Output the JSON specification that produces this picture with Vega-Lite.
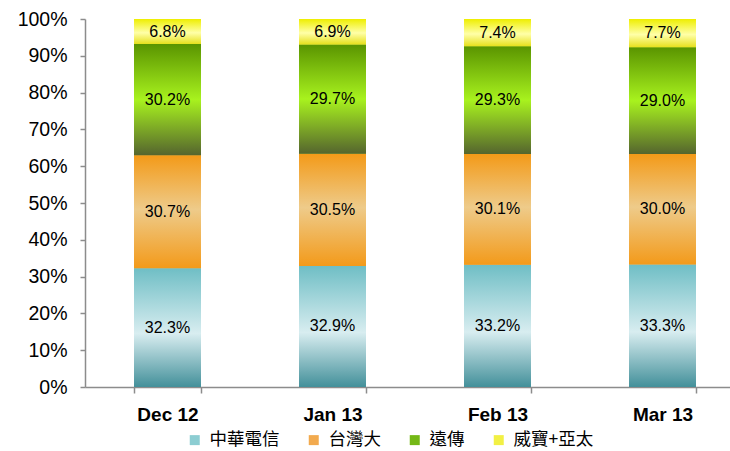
{
  "$schema": "https://vega.github.io/schema/vega-lite/v6.json",
  "autosize": {"type": "none"},
  "padding": {"left": 85, "top": 19, "right": 0, "bottom": 64},
  "width": 660,
  "height": 368,
  "background": "white",
  "config": {
    "view": {"stroke": null},
    "font": "Liberation Sans",
    "axisY": {"labelOverlap": false}
  },
  "data": {
    "values": [
      {"m": "Dec 12", "s": "中華電信", "o": 1, "v": 0.323},
      {"m": "Dec 12", "s": "台灣大", "o": 2, "v": 0.307},
      {"m": "Dec 12", "s": "遠傳", "o": 3, "v": 0.302},
      {"m": "Dec 12", "s": "威寶+亞太", "o": 4, "v": 0.068},
      {"m": "Jan 13", "s": "中華電信", "o": 1, "v": 0.329},
      {"m": "Jan 13", "s": "台灣大", "o": 2, "v": 0.305},
      {"m": "Jan 13", "s": "遠傳", "o": 3, "v": 0.297},
      {"m": "Jan 13", "s": "威寶+亞太", "o": 4, "v": 0.069},
      {"m": "Feb 13", "s": "中華電信", "o": 1, "v": 0.332},
      {"m": "Feb 13", "s": "台灣大", "o": 2, "v": 0.301},
      {"m": "Feb 13", "s": "遠傳", "o": 3, "v": 0.293},
      {"m": "Feb 13", "s": "威寶+亞太", "o": 4, "v": 0.074},
      {"m": "Mar 13", "s": "中華電信", "o": 1, "v": 0.333},
      {"m": "Mar 13", "s": "台灣大", "o": 2, "v": 0.300},
      {"m": "Mar 13", "s": "遠傳", "o": 3, "v": 0.290},
      {"m": "Mar 13", "s": "威寶+亞太", "o": 4, "v": 0.077}
    ]
  },
  "transform": [
    {"stack": "v", "groupby": ["m"], "sort": [{"field": "o", "order": "ascending"}], "as": ["y0", "y1"]},
    {"calculate": "(datum.y0 + datum.y1) / 2", "as": "ym"}
  ],
  "encoding": {
    "x": {
      "field": "m",
      "type": "nominal",
      "sort": ["Dec 12", "Jan 13", "Feb 13", "Mar 13"],
      "scale": {"paddingInner": 0.594, "paddingOuter": 0.297},
      "axis": {
        "title": null,
        "labelAngle": 0,
        "labelFont": "Liberation Sans",
        "labelFontSize": 19,
        "labelFontWeight": "bold",
        "labelColor": "#000000",
        "labelPadding": 12,
        "tickBand": "extent",
        "tickSize": 6,
        "tickColor": "#8c8c8c",
        "tickWidth": 1.5,
        "domainColor": "#8c8c8c",
        "domainWidth": 1.5,
        "grid": false
      }
    },
    "y": {
      "field": "y0",
      "type": "quantitative",
      "scale": {"domain": [0, 1], "nice": false},
      "axis": {
        "title": null,
        "format": ".0%",
        "values": [0, 0.1, 0.2, 0.3, 0.4, 0.5, 0.6, 0.7, 0.8, 0.9, 1],
        "labelOverlap": false,
        "labelBound": false,
        "labelFlush": false,
        "grid": false,
        "labelFont": "Liberation Sans",
        "labelFontSize": 19.5,
        "labelColor": "#000000",
        "labelPadding": 13,
        "tickSize": 5,
        "tickColor": "#8c8c8c",
        "tickWidth": 1.5,
        "domainColor": "#8c8c8c",
        "domainWidth": 1.5
      }
    },
    "y2": {"field": "y1"}
  },
  "layer": [
    {
      "mark": {"type": "bar"},
      "encoding": {
        "color": {
          "field": "s",
          "type": "nominal",
          "sort": ["中華電信", "台灣大", "遠傳", "威寶+亞太"],
          "scale": {
            "domain": ["中華電信", "台灣大", "遠傳", "威寶+亞太"],
            "range": ["#8ccdd2", "#f2aa4e", "#74b816", "#f2f044"]
          },
          "legend": {
            "title": null,
            "orient": "none",
            "direction": "horizontal",
            "legendX": 101,
            "legendY": 412,
            "symbolType": "square",
            "symbolSize": 100,
            "symbolStrokeWidth": 0,
            "labelFont": "Noto Sans CJK TC",
            "labelFontSize": 17.5,
            "labelColor": "#000000",
            "labelOffset": 6,
            "columnPadding": 25
          }
        }
      }
    },
    {
      "transform": [{"filter": "datum.s === '中華電信'"}],
      "mark": {
        "type": "bar",
        "color": {"gradient": "linear", "x1": 0, "y1": 0, "x2": 0, "y2": 1,
          "stops": [{"offset": 0, "color": "#6fbec5"}, {"offset": 0.55, "color": "#d8edf0"}, {"offset": 1, "color": "#43909a"}]}
      }
    },
    {
      "transform": [{"filter": "datum.s === '台灣大'"}],
      "mark": {
        "type": "bar",
        "color": {"gradient": "linear", "x1": 0, "y1": 0, "x2": 0, "y2": 1,
          "stops": [{"offset": 0, "color": "#f39a18"}, {"offset": 0.48, "color": "#eecb8a"}, {"offset": 1, "color": "#f39a1a"}]}
      }
    },
    {
      "transform": [{"filter": "datum.s === '遠傳'"}],
      "mark": {
        "type": "bar",
        "color": {"gradient": "linear", "x1": 0, "y1": 0, "x2": 0, "y2": 1,
          "stops": [{"offset": 0, "color": "#5a9400"}, {"offset": 0.5, "color": "#a8f21e"}, {"offset": 1, "color": "#55652e"}]}
      }
    },
    {
      "transform": [{"filter": "datum.s === '威寶+亞太'"}],
      "mark": {
        "type": "bar",
        "color": {"gradient": "linear", "x1": 0, "y1": 0, "x2": 0, "y2": 1,
          "stops": [{"offset": 0, "color": "#eeee00"}, {"offset": 0.55, "color": "#ffffa8"}, {"offset": 1, "color": "#e6e01c"}]}
      }
    },
    {
      "mark": {"type": "text", "font": "Liberation Sans", "fontSize": 16, "color": "#000000", "baseline": "middle", "align": "center"},
      "encoding": {
        "y": {
          "field": "ym",
          "type": "quantitative",
          "axis": {
            "title": null,
            "format": ".0%",
            "values": [0, 0.1, 0.2, 0.3, 0.4, 0.5, 0.6, 0.7, 0.8, 0.9, 1],
            "labelOverlap": false,
            "labelBound": false,
            "labelFlush": false,
            "grid": false,
            "labelFont": "Liberation Sans",
            "labelFontSize": 19.5,
            "labelColor": "#000000",
            "labelPadding": 13,
            "tickSize": 5,
            "tickColor": "#8c8c8c",
            "tickWidth": 1.5,
            "domainColor": "#8c8c8c",
            "domainWidth": 1.5
          }
        },
        "y2": null,
        "text": {"field": "v", "type": "quantitative", "format": ".1%"}
      }
    }
  ]
}
